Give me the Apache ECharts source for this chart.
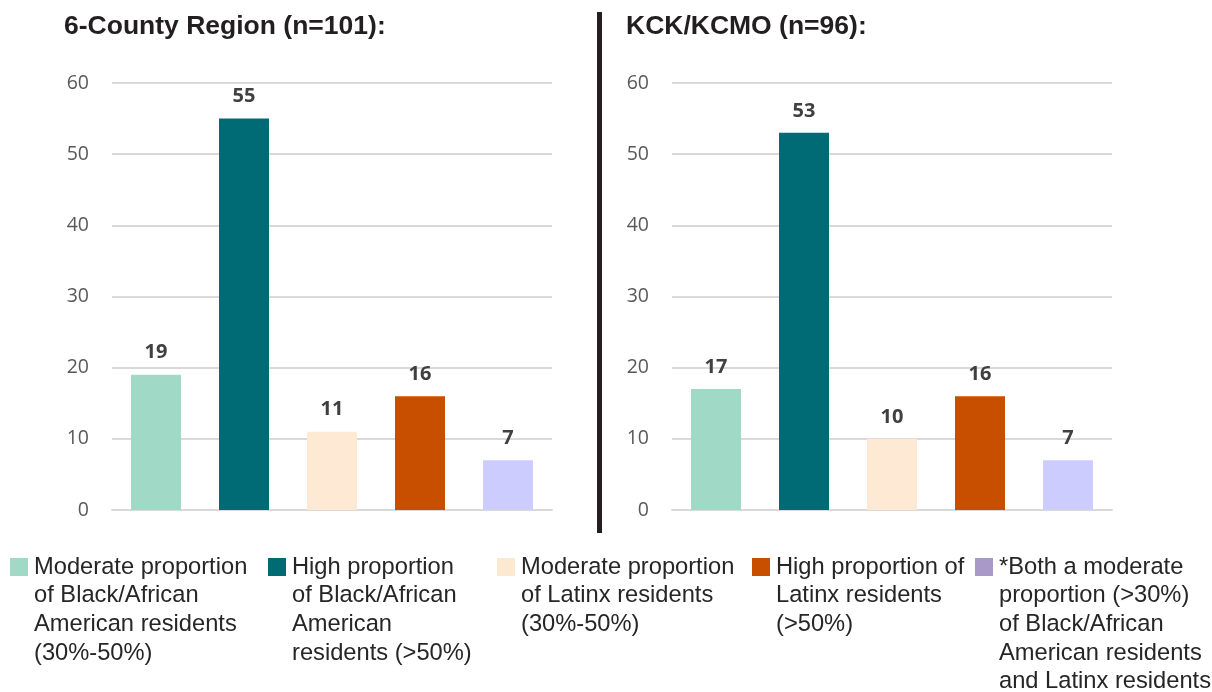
<!DOCTYPE html>
<html>
<head>
<meta charset="utf-8">
<script src="https://cdn.jsdelivr.net/npm/echarts@6/dist/echarts.min.js"></script>
<style>
html,body{margin:0;padding:0;background:#fff;}
#chart{width:1212px;height:692px;}
</style>
</head>
<body>
<div id="chart"></div>
<script>
// ---- data ----
var categories = [
  'Moderate proportion\nof Black/African\nAmerican residents\n(30%-50%)',
  'High proportion\nof Black/African\nAmerican\nresidents (>50%)',
  'Moderate proportion\nof Latinx residents\n(30%-50%)',
  'High proportion of\nLatinx residents\n(>50%)',
  '*Both a moderate\nproportion (>30%)\nof Black/African\nAmerican residents\nand Latinx residents'
];
var regionTitle = '6-County Region (n=101):';
var cityTitle = 'KCK/KCMO (n=96):';
var regionValues = [19, 55, 11, 16, 7];
var cityValues = [17, 53, 10, 16, 7];
var yTicks = [0, 10, 20, 30, 40, 50, 60];

// ---- styles ----
var barColors = ['#a0dac6', '#006b75', '#fde9d4', '#c94f00', '#ccccff'];
var legendColors = ['#a0d9c5', '#006b73', '#fde8d2', '#c84f00', '#a899c9'];
var legendLeft = [10, 268, 497, 752, 975];

var chart = echarts.init(document.getElementById('chart'));

function makeData(vals) {
  return vals.map(function (v, i) {
    return { value: v, itemStyle: { color: barColors[i] } };
  });
}

function yAxis(idx) {
  return {
    type: 'value', gridIndex: idx,
    min: yTicks[0], max: yTicks[yTicks.length - 1], interval: 10,
    axisLine: { show: false }, axisTick: { show: false },
    axisLabel: { margin: 23, color: '#595959', fontSize: 19.5, fontFamily: 'Open Sans' },
    splitLine: { lineStyle: { color: '#d9d9d9', width: 2 } }
  };
}
function xAxis(idx) {
  return {
    type: 'category', gridIndex: idx, data: categories,
    axisLine: { show: true, lineStyle: { color: '#d9d9d9', width: 2 } },
    axisTick: { show: false }, axisLabel: { show: false }
  };
}
var labelStyle = {
  show: true, position: 'top', distance: 12,
  color: '#404040', fontSize: 20, fontWeight: 'bold', fontFamily: 'Open Sans'
};

var legendGraphics = [];
categories.forEach(function (c, i) {
  legendGraphics.push({
    type: 'rect', left: legendLeft[i], top: 558,
    shape: { width: 18, height: 18 },
    style: { fill: legendColors[i] }
  });
  legendGraphics.push({
    type: 'text', left: legendLeft[i] + 24, top: 553,
    style: {
      text: c, fill: '#262626', fontSize: 23.7, lineHeight: 28.6,
      fontFamily: 'Liberation Sans, Arial, sans-serif'
    }
  });
});
legendGraphics.push({
  type: 'rect', left: 597, top: 12,
  shape: { width: 5, height: 521 },
  style: { fill: '#231f20' }
});

var titleText = { fontSize: 26.5, fontWeight: 'bold', color: '#231f20', fontFamily: 'Liberation Sans, Arial, sans-serif' };

chart.setOption({
  animation: false,
  backgroundColor: '#ffffff',
  title: [
    { text: regionTitle, left: 64, top: 13, padding: 0, textStyle: titleText },
    { text: cityTitle, left: 626, top: 13, padding: 0, textStyle: titleText }
  ],
  grid: [
    { left: 112, right: 660, top: 83, bottom: 182 },
    { left: 672, right: 100, top: 83, bottom: 182 }
  ],
  xAxis: [xAxis(0), xAxis(1)],
  yAxis: [yAxis(0), yAxis(1)],
  series: [
    { type: 'bar', xAxisIndex: 0, yAxisIndex: 0, barWidth: 50, data: makeData(regionValues), label: labelStyle },
    { type: 'bar', xAxisIndex: 1, yAxisIndex: 1, barWidth: 50, data: makeData(cityValues), label: labelStyle }
  ],
  graphic: legendGraphics
});
</script>
</body>
</html>
